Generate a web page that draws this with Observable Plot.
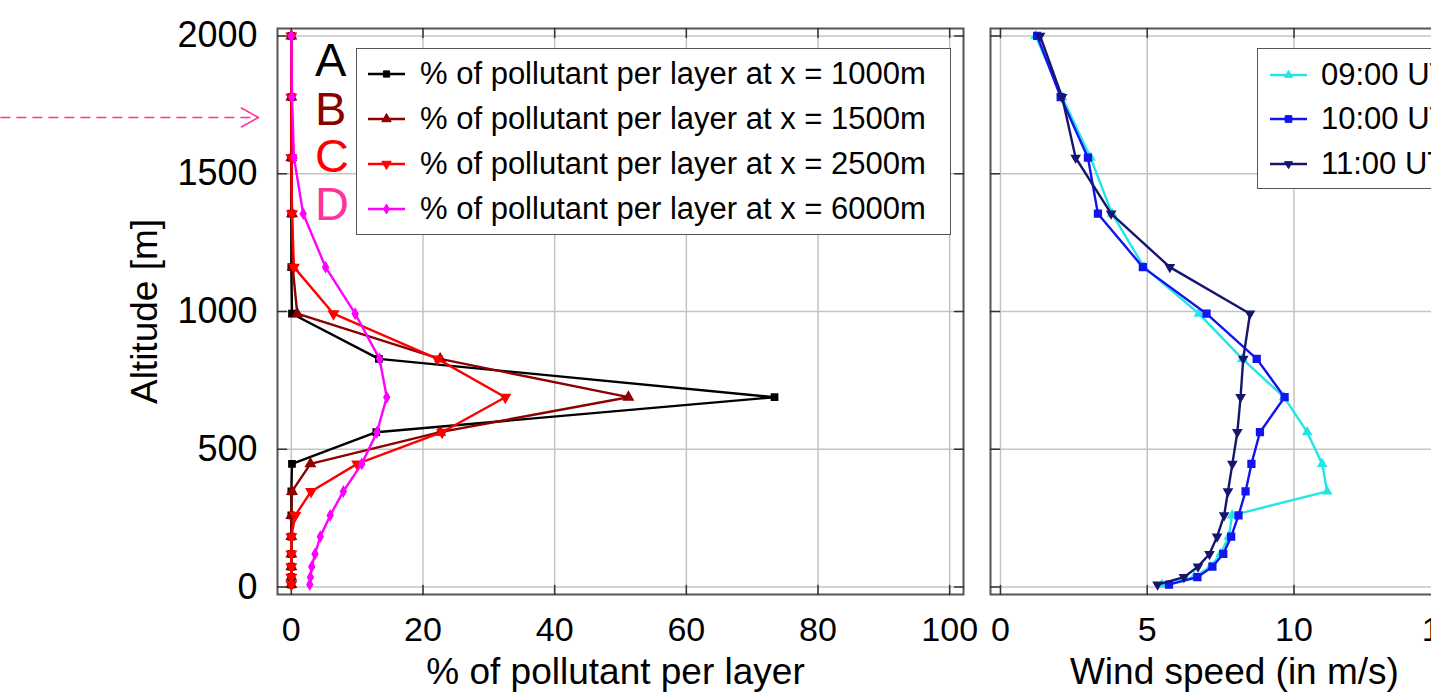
<!DOCTYPE html>
<html>
<head>
<meta charset="utf-8">
<script src="https://cdn.jsdelivr.net/npm/d3@7"></script>
<script src="https://cdn.jsdelivr.net/npm/@observablehq/plot@0.6"></script>
<style>
  html, body { margin: 0; padding: 0; background: #fff; overflow: hidden; }
  #wrap { position: relative; width: 1431px; height: 695px; overflow: hidden; font-family: 'Liberation Sans', Arial, Helvetica, sans-serif; }
  #wrap > svg { position: absolute; top: 0; }
  .legend { position: absolute; background: #fff; border: 1.5px solid #555; box-sizing: border-box; }
  .row { position: absolute; left: 0; height: 40px; display: flex; align-items: center; white-space: nowrap; color: #000; }
  .row svg { position: absolute; }
  .letter { position: absolute; font-size: 47px; line-height: 47px; }
</style>
</head>
<body>
<div id="wrap"></div>
<script>
// ---------- data ----------
const altitudes = [9, 36, 74, 120, 183, 260, 347, 447, 562, 689, 828, 992, 1161, 1355, 1558, 1778, 2000];

const pollutantA = [0, 0, 0, 0, 0, 0, 0, 0.1, 12.9, 73.4, 13.3, 0.1, 0, 0, 0, 0, 0];
const pollutantB = [0, 0, 0, 0, 0, 0, 0.1, 2.9, 22.6, 51.2, 22.6, 0.9, 0.2, 0.1, 0, 0, 0];
const pollutantC = [0, 0, 0, 0, 0, 0.6, 3.0, 10.0, 22.9, 32.5, 22.2, 6.4, 0.4, 0.1, 0, 0, 0];
const pollutantD = [2.8, 2.9, 3.1, 3.6, 4.4, 5.9, 7.9, 10.7, 13.0, 14.5, 13.4, 9.7, 5.2, 1.8, 0.4, 0.1, 0];

const wind09 = [5.5, 6.6, 7.16, 7.5, 7.78, 7.89, 11.13, 10.96, 10.45, 9.66, 8.24, 6.76, 4.89, 3.8, 3.07, 2.1, 1.2];
const wind10 = [5.74, 6.71, 7.22, 7.59, 7.86, 8.11, 8.35, 8.55, 8.84, 9.68, 8.73, 7.02, 4.85, 3.32, 2.98, 2.05, 1.25];
const wind11 = [5.35, 6.25, 6.73, 7.12, 7.38, 7.62, 7.75, 7.9, 8.07, 8.18, 8.27, 8.5, 5.77, 3.77, 2.56, 2.1, 1.35];

const pollutantNames = [
  "% of pollutant per layer at x = 1000m",
  "% of pollutant per layer at x = 1500m",
  "% of pollutant per layer at x = 2500m",
  "% of pollutant per layer at x = 6000m"
];
const windNames = ["09:00 UTC", "10:00 UTC", "11:00 UTC"];
const letters = ["A", "B", "C", "D"];

const pollutantTicks = [0, 20, 40, 60, 80, 100];
const windTicks = [0, 5, 10, 15, 20];
const altitudeTicks = [0, 500, 1000, 1500, 2000];

const xLabelLeft = "% of pollutant per layer";
const xLabelRight = "Wind speed (in m/s)";
const yLabel = "Altitude [m]";

// annotation arrow (data coordinates of the left panel)
const arrowNote = [{x1: -44.2, x2: -5.0, alt: 1704}];

// ---------- styles ----------
const font = "'Liberation Sans', Arial, Helvetica, sans-serif";
const pollutantColors = ["#000000", "#8b0000", "#ff0000", "#ff00ff"];
const letterColors = ["#000000", "#8b0000", "#ff0000", "#ff3399"];
const pollutantSymbols = [
  {symbol: "square", r: 3.5, rotate: 0},
  {symbol: "triangle", r: 3.5, rotate: 0},
  {symbol: "triangle", r: 3.5, rotate: 180},
  {symbol: "diamond", r: 3, rotate: 0}
];
const windColors = ["#22e6e6", "#1414f0", "#161670"];
const windSymbols = [
  {symbol: "triangle", r: 3, rotate: 0},
  {symbol: "square", r: 3.8, rotate: 0},
  {symbol: "triangle", r: 3, rotate: 180}
];

const Y = [-27, 2027];
const XL = [-2.1, 102.1];
const XR = [-0.34, 20.34];

const tickShape = {draw(ctx, l) { ctx.moveTo(0, 0); ctx.lineTo(0, -l); }};
const chevron = {draw(ctx, l) { ctx.moveTo(-9.5, 0); ctx.lineTo(0, -l); ctx.lineTo(9.5, 0); }};

function frameTicks(xTicks, yTicks, X) {
  const o = {length: 9, anchor: "start", shape: tickShape, stroke: "#333", strokeWidth: 1.5};
  return [
    Plot.vector(xTicks, {...o, x: d => d, y: () => Y[0], rotate: 0}),
    Plot.vector(xTicks, {...o, x: d => d, y: () => Y[1], rotate: 180}),
    Plot.vector(yTicks, {...o, x: () => X[0], y: d => d, rotate: 90}),
    Plot.vector(yTicks, {...o, x: () => X[1], y: d => d, rotate: 270})
  ];
}

function seriesMarks(values, color, sym) {
  const rows = altitudes.map((alt, i) => ({alt, v: values[i]}));
  return [
    Plot.line(rows, {x: "v", y: "alt", stroke: color, strokeWidth: 2.4}),
    Plot.dot(rows, {x: "v", y: "alt", fill: color, stroke: color, symbol: sym.symbol, r: sym.r, rotate: sym.rotate})
  ];
}

const wrap = document.getElementById("wrap");

// ---------- left panel ----------
const left = Plot.plot({
  width: 980, height: 695,
  marginLeft: 277, marginRight: 17, marginTop: 28, marginBottom: 101,
  x: {domain: XL, axis: null},
  y: {domain: Y, axis: null},
  style: {fontFamily: font, fontSize: "34px", background: "transparent", overflow: "visible"},
  marks: [
    Plot.ruleX(pollutantTicks, {stroke: "#c4c4c4", strokeWidth: 1.5}),
    Plot.ruleY(altitudeTicks, {stroke: "#c4c4c4", strokeWidth: 1.5}),
    Plot.frame({stroke: "#555", strokeWidth: 2}),
    ...frameTicks(pollutantTicks, altitudeTicks, XL),
    Plot.axisX({ticks: pollutantTicks, tickFormat: d => String(d), anchor: "bottom", tickSize: 0, tickPadding: 22, fontSize: 34, label: null}),
    Plot.axisY({ticks: altitudeTicks, tickFormat: d => String(d), anchor: "left", tickSize: 0, tickPadding: 20, fontSize: 36, label: null}),
    Plot.text([xLabelLeft], {text: d => d, frameAnchor: "bottom", textAnchor: "middle", lineAnchor: "middle", dy: 78, dx: -5, fontSize: 37, fill: "#000"}),
    Plot.text([yLabel], {text: d => d, frameAnchor: "left", textAnchor: "middle", lineAnchor: "middle", rotate: -90, dx: -132, fontSize: 37, fill: "#000"}),
    ...seriesMarks(pollutantA, pollutantColors[0], pollutantSymbols[0]),
    ...seriesMarks(pollutantB, pollutantColors[1], pollutantSymbols[1]),
    ...seriesMarks(pollutantC, pollutantColors[2], pollutantSymbols[2]),
    ...seriesMarks(pollutantD, pollutantColors[3], pollutantSymbols[3]),
    Plot.link(arrowNote, {x1: "x1", x2: "x2", y1: "alt", y2: "alt", stroke: "#ff3399", strokeWidth: 1.5, strokeDasharray: "10,6"}),
    Plot.vector(arrowNote, {x: "x2", y: "alt", rotate: 90, length: 17, anchor: "end", shape: chevron, stroke: "#ff3399", strokeWidth: 1.5})
  ]
});
left.style.left = "0px";
wrap.appendChild(left);

// ---------- right panel ----------
const right = Plot.plot({
  width: 642, height: 695,
  marginLeft: 15, marginRight: 20, marginTop: 28, marginBottom: 101,
  x: {domain: XR, axis: null},
  y: {domain: Y, axis: null},
  style: {fontFamily: font, fontSize: "34px", background: "transparent", overflow: "visible"},
  marks: [
    Plot.ruleX(windTicks, {stroke: "#c4c4c4", strokeWidth: 1.5}),
    Plot.ruleY(altitudeTicks, {stroke: "#c4c4c4", strokeWidth: 1.5}),
    Plot.frame({stroke: "#555", strokeWidth: 2}),
    ...frameTicks(windTicks, altitudeTicks, XR),
    Plot.axisX({ticks: windTicks, tickFormat: d => String(d), anchor: "bottom", tickSize: 0, tickPadding: 22, fontSize: 34, label: null}),
    Plot.text([xLabelRight], {text: d => d, x: () => 7.97, frameAnchor: "bottom", textAnchor: "middle", lineAnchor: "middle", dy: 78, fontSize: 37, fill: "#000"}),
    ...seriesMarks(wind09, windColors[0], windSymbols[0]),
    ...seriesMarks(wind10, windColors[1], windSymbols[1]),
    ...seriesMarks(wind11, windColors[2], windSymbols[2])
  ]
});
right.style.left = "975px";
wrap.appendChild(right);

// ---------- legends ----------
function sampleSvg(color, sym) {
  const s = d3.create("svg").attr("width", 40).attr("height", 20).attr("viewBox", "0 0 40 20");
  s.append("line").attr("x1", 0).attr("x2", 37).attr("y1", 10).attr("y2", 10)
    .attr("stroke", color).attr("stroke-width", 2.4);
  const sz = Math.PI * sym.r * sym.r;
  const type = sym.symbol === "square" ? d3.symbolSquare : sym.symbol === "triangle" ? d3.symbolTriangle : d3.symbolDiamond;
  s.append("path").attr("d", d3.symbol(type, sz)())
    .attr("transform", `translate(18.5,10) rotate(${sym.rotate})`)
    .attr("fill", color).attr("stroke", color);
  return s.node();
}

function makeLegend(box, names, colors, syms, rowCenters, lineX, textX, fontSize) {
  const div = document.createElement("div");
  div.className = "legend";
  Object.assign(div.style, {left: box.left + "px", top: box.top + "px", width: box.width + "px", height: box.height + "px"});
  names.forEach((name, i) => {
    const row = document.createElement("div");
    row.className = "row";
    row.style.top = (rowCenters[i] - 20) + "px";
    row.style.width = (box.width - 4) + "px";
    const svg = sampleSvg(colors[i], syms[i]);
    svg.style.left = lineX + "px";
    svg.style.top = "10px";
    row.appendChild(svg);
    const t = document.createElement("span");
    t.textContent = name;
    t.style.position = "absolute";
    t.style.left = textX + "px";
    t.style.fontSize = fontSize + "px";
    t.style.lineHeight = "40px";
    row.appendChild(t);
    div.appendChild(row);
  });
  wrap.appendChild(div);
}

makeLegend({left: 356, top: 48, width: 595, height: 187}, pollutantNames, pollutantColors, pollutantSymbols,
  [25.3, 70.3, 115.3, 160.3], 11, 63, 31);
makeLegend({left: 1257, top: 48, width: 320, height: 141}, windNames, windColors, windSymbols,
  [26, 70.3, 115.3], 12, 63, 31);

// ---------- letters ----------
const letterCenters = [59, 107.5, 155, 203];
letters.forEach((L, i) => {
  const s = document.createElement("div");
  s.className = "letter";
  s.textContent = L;
  s.style.color = letterColors[i];
  s.style.left = "315px";
  s.style.top = (letterCenters[i] - 23) + "px";
  wrap.appendChild(s);
});
</script>
</body>
</html>
